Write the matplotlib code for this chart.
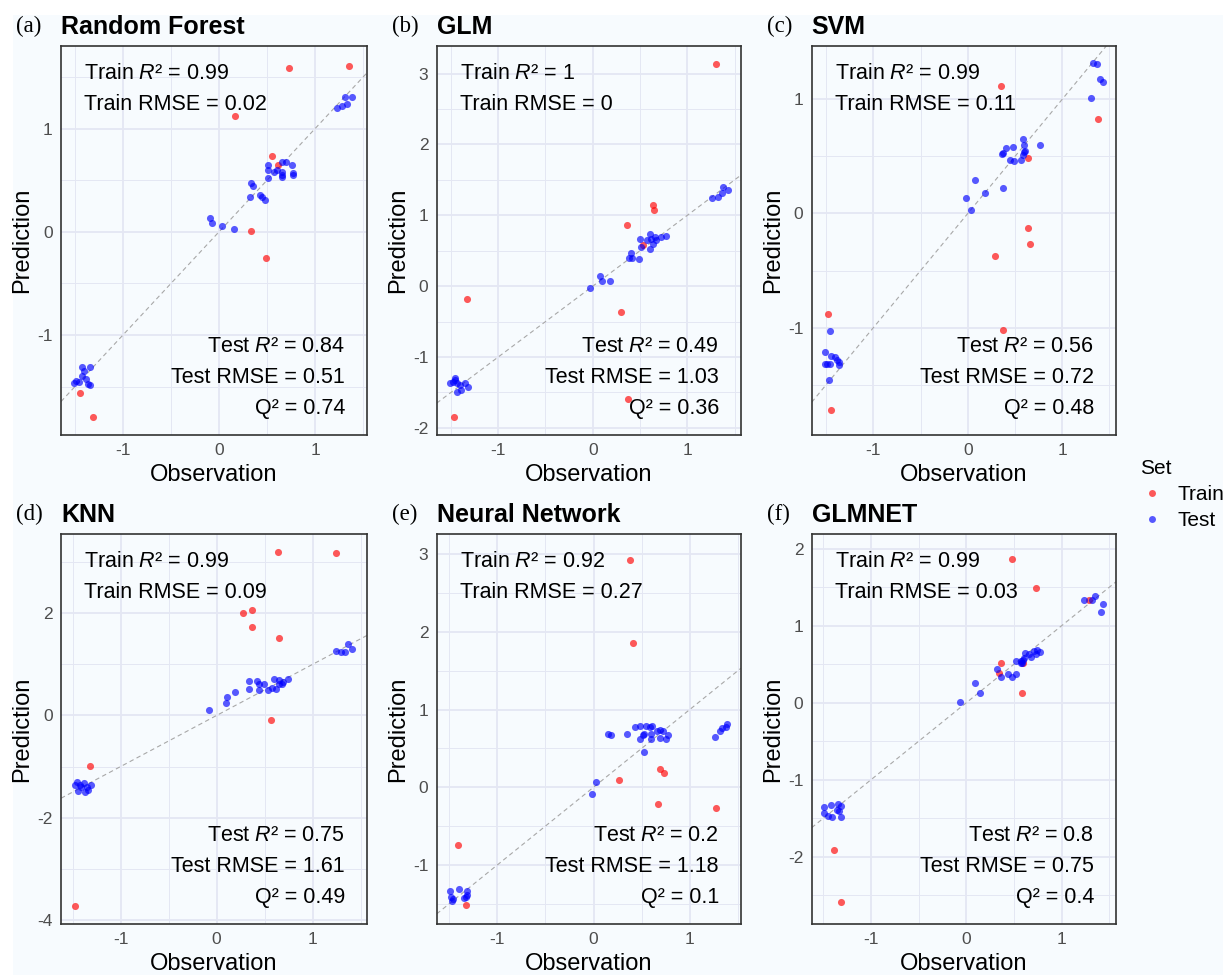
import numpy as np
import matplotlib
matplotlib.use("Agg")
import matplotlib.pyplot as plt
from matplotlib.patches import Rectangle
from matplotlib.lines import Line2D
from matplotlib.ticker import MultipleLocator

plt.rcParams['font.family'] = ['Liberation Sans', 'DejaVu Sans']
plt.rcParams['mathtext.fontset'] = 'custom'
plt.rcParams['mathtext.rm'] = 'Liberation Sans'
plt.rcParams['mathtext.it'] = 'Liberation Sans:italic'
plt.rcParams['axes.unicode_minus'] = False

# ---- data ----
models = ["Random Forest", "GLM", "SVM", "KNN", "Neural Network", "GLMNET"]
panel_tags = ["(a)", "(b)", "(c)", "(d)", "(e)", "(f)"]

train_r2 = ["0.99", "1", "0.99", "0.99", "0.92", "0.99"]
train_rmse = ["0.02", "0", "0.11", "0.09", "0.27", "0.03"]
test_r2 = ["0.84", "0.49", "0.56", "0.75", "0.2", "0.8"]
test_rmse = ["0.51", "1.03", "0.72", "1.61", "1.18", "0.75"]
q2 = ["0.74", "0.36", "0.48", "0.49", "0.1", "0.4"]

# Random Forest
rf_train_obs = [0.73, 1.35, 0.17, 0.55, 0.61, 0.33, 0.49, -1.45, -1.31]
rf_train_pred = [1.59, 1.61, 1.12, 0.73, 0.65, 0.01, -0.25, -1.56, -1.80]
rf_test_obs = [1.23, 1.28, 1.33, 1.31, 1.38,
               0.51, 0.51, 0.51, 0.57, 0.60, 0.65, 0.65, 0.66, 0.65, 0.70, 0.76, 0.77, 0.77,
               0.33, 0.35, 0.32, 0.43, 0.45, 0.48,
               -0.09, -0.07, 0.03, 0.16,
               -1.43, -1.34, -1.41, -1.43, -1.49, -1.46, -1.39, -1.37, -1.34, -1.51]
rf_test_pred = [1.20, 1.22, 1.24, 1.31, 1.31,
                0.65, 0.60, 0.52, 0.58, 0.60, 0.55, 0.53, 0.58, 0.68, 0.68, 0.65, 0.57, 0.55,
                0.47, 0.44, 0.34, 0.36, 0.34, 0.31,
                0.13, 0.08, 0.06, 0.03,
                -1.31, -1.31, -1.35, -1.40, -1.45, -1.46, -1.43, -1.48, -1.49, -1.47]

# GLM
glm_train_obs = [1.30, 0.64, 0.65, 0.36, 0.53, 0.30, -1.33, 0.37, -1.47]
glm_train_pred = [3.14, 1.15, 1.08, 0.87, 0.58, -0.36, -0.18, -1.59, -1.84]
glm_test_obs = [1.26, 1.33, 1.37, 1.38, 1.43,
                0.50, 0.51, 0.61, 0.62, 0.61, 0.64, 0.66, 0.67, 0.72, 0.77, 0.57, 0.40, 0.38, 0.42, 0.49,
                0.08, 0.10, 0.18, -0.03,
                -1.51, -1.46, -1.44, -1.44, -1.39, -1.35, -1.32, -1.46, -1.40, -1.48]
glm_test_pred = [1.25, 1.26, 1.32, 1.40, 1.36,
                 0.66, 0.56, 0.74, 0.66, 0.52, 0.60, 0.70, 0.65, 0.70, 0.71, 0.65, 0.47, 0.40, 0.40, 0.39,
                 0.14, 0.08, 0.08, -0.02,
                 -1.36, -1.30, -1.37, -1.49, -1.47, -1.36, -1.42, -1.33, -1.40, -1.35]

# SVM
svm_train_obs = [0.35, 1.38, 0.64, 0.64, 0.66, 0.29, 0.37, -1.48, -1.45]
svm_train_pred = [1.12, 0.83, 0.49, -0.13, -0.27, -0.37, -1.02, -0.88, -1.72]
svm_test_obs = [1.33, 1.37, 1.40, 1.43, 1.31,
                0.59, 0.60, 0.77, 0.48, 0.40, 0.36, 0.37, 0.45, 0.49, 0.56, 0.59, 0.60, 0.61,
                0.08, 0.18, 0.37, -0.02, 0.03,
                -1.46, -1.51, -1.51, -1.46, -1.45, -1.41, -1.39, -1.36, -1.36, -1.47, -1.49]
svm_test_pred = [1.32, 1.31, 1.18, 1.15, 1.01,
                 0.65, 0.60, 0.60, 0.58, 0.57, 0.52, 0.53, 0.47, 0.46, 0.47, 0.51, 0.54, 0.55,
                 0.29, 0.18, 0.22, 0.14, 0.03,
                 -1.03, -1.21, -1.32, -1.32, -1.25, -1.26, -1.28, -1.33, -1.30, -1.46, -1.32]

# KNN
knn_train_obs = [0.64, 1.24, 0.27, 0.37, 0.37, 0.65, 0.57, -1.32, -1.47]
knn_train_pred = [3.20, 3.18, 2.00, 2.07, 1.73, 1.52, -0.08, -0.99, -3.72]
knn_test_obs = [1.24, 1.30, 1.34, 1.37, 1.41,
                0.34, 0.34, 0.42, 0.44, 0.44, 0.49, 0.54, 0.58, 0.60, 0.62, 0.65, 0.65, 0.68, 0.69, 0.74,
                -0.08, 0.10, 0.11, 0.19,
                -1.45, -1.42, -1.38, -1.35, -1.31, -1.44, -1.37, -1.34, -1.41, -1.47]
knn_test_pred = [1.27, 1.24, 1.24, 1.40, 1.30,
                 0.67, 0.52, 0.67, 0.61, 0.49, 0.61, 0.50, 0.54, 0.71, 0.51, 0.70, 0.61, 0.61, 0.65, 0.71,
                 0.11, 0.24, 0.37, 0.46,
                 -1.30, -1.37, -1.32, -1.40, -1.37, -1.47, -1.49, -1.46, -1.40, -1.37]

# Neural Network
nn_train_obs = [0.38, 0.41, 0.69, 0.73, 0.26, 0.67, 1.27, -1.41, -1.33]
nn_train_pred = [2.93, 1.86, 0.24, 0.18, 0.09, -0.21, -0.27, -0.74, -1.52]
nn_test_obs = [1.26, 1.32, 1.34, 1.38, 1.39,
               0.15, 0.18, 0.35, 0.43, 0.48, 0.55, 0.61, 0.59, 0.51, 0.53, 0.48, 0.60, 0.60, 0.66,
               0.69, 0.72, 0.69, 0.75, 0.77, 0.53,
               0.03, -0.02,
               -1.49, -1.40, -1.32, -1.48, -1.46, -1.33, -1.31, -1.47, -1.35]
nn_test_pred = [0.65, 0.72, 0.76, 0.77, 0.81,
                0.69, 0.67, 0.69, 0.77, 0.79, 0.79, 0.79, 0.78, 0.67, 0.69, 0.62, 0.62, 0.69, 0.73,
                0.74, 0.73, 0.63, 0.62, 0.67, 0.45,
                0.07, -0.09,
                -1.33, -1.31, -1.33, -1.41, -1.44, -1.41, -1.39, -1.46, -1.43]

# GLMNET
gn_train_obs = [0.48, 0.73, 1.29, 0.36, 0.34, 0.59, 0.58, -1.39, -1.31]
gn_train_pred = [1.87, 1.49, 1.33, 0.52, 0.39, 0.52, 0.13, -1.91, -2.59]
gn_test_obs = [1.23, 1.32, 1.35, 1.43, 1.41,
               0.32, 0.36, 0.44, 0.48, 0.52, 0.52, 0.57, 0.57, 0.59, 0.62, 0.66, 0.68, 0.71, 0.73,
               0.74, 0.77, 0.58, 0.61,
               0.09, 0.14, -0.07,
               -1.49, -1.42, -1.34, -1.45, -1.41, -1.31, -1.33, -1.49, -1.36, -1.31]
gn_test_pred = [1.33, 1.33, 1.39, 1.28, 1.18,
                0.44, 0.34, 0.37, 0.33, 0.38, 0.54, 0.51, 0.54, 0.55, 0.65, 0.63, 0.60, 0.67, 0.63,
                0.68, 0.66, 0.51, 0.58,
                0.26, 0.13, 0.01,
                -1.35, -1.33, -1.31, -1.47, -1.48, -1.48, -1.40, -1.43, -1.39, -1.34]

train_obs = [rf_train_obs, glm_train_obs, svm_train_obs, knn_train_obs, nn_train_obs, gn_train_obs]
train_pred = [rf_train_pred, glm_train_pred, svm_train_pred, knn_train_pred, nn_train_pred, gn_train_pred]
test_obs = [rf_test_obs, glm_test_obs, svm_test_obs, knn_test_obs, nn_test_obs, gn_test_obs]
test_pred = [rf_test_pred, glm_test_pred, svm_test_pred, knn_test_pred, nn_test_pred, gn_test_pred]

xlims = [(-1.646, 1.54), (-1.65, 1.565), (-1.653, 1.57), (-1.62, 1.566), (-1.63, 1.53), (-1.62, 1.57)]
ylims = [(-1.97, 1.80), (-2.10, 3.39), (-1.94, 1.467), (-4.08, 3.55), (-1.76, 3.26), (-2.87, 2.19)]
ysteps = [1, 1, 1, 2, 1, 1]

# axes boxes in pixels (left, top, right, bottom)
W, H = 1223, 975
col_lr = [(61, 367), (436.7, 740.7), (811.7, 1116)]
row_tb = [(46, 435), (534, 924)]

fig = plt.figure(figsize=(W / 100, H / 100), dpi=100)
fig.patch.set_facecolor('white')
fig.add_artist(Rectangle((13 / W, 0), 1 - 13 / W, 1 - 15 / H, transform=fig.transFigure,
                         facecolor='#f7fbfe', edgecolor='none', zorder=-10))

grid_col = '#e4e7f3'
for i in range(6):
    r, c = divmod(i, 3)
    l, rr = col_lr[c]
    t, b = row_tb[r]
    ax = fig.add_axes([l / W, 1 - b / H, (rr - l) / W, (b - t) / H])
    ax.set_facecolor('none')
    ax.set_xlim(xlims[i])
    ax.set_ylim(ylims[i])
    ax.xaxis.set_major_locator(MultipleLocator(1))
    ax.xaxis.set_minor_locator(MultipleLocator(0.5))
    ax.yaxis.set_major_locator(MultipleLocator(ysteps[i]))
    ax.yaxis.set_minor_locator(MultipleLocator(ysteps[i] / 2))
    ax.grid(True, which='major', color=grid_col, lw=1.3, zorder=0)
    ax.grid(True, which='minor', color=grid_col, lw=0.7, zorder=0)
    ax.set_axisbelow(True)
    ax.tick_params(which='both', length=0, labelsize=12.5, labelcolor='#4d4d4d', pad=6)
    for sp in ax.spines.values():
        sp.set_color('#333333')
        sp.set_linewidth(1.2)

    ax.axline((0, 0), slope=1, color='#a8a8a8', lw=0.8, ls=(0, (4, 3)), zorder=1)
    ax.scatter(train_obs[i], train_pred[i], s=26, color='red', alpha=0.65, lw=0, zorder=3)
    ax.scatter(test_obs[i], test_pred[i], s=26, color='blue', alpha=0.65, lw=0, zorder=3)

    ax.set_xlabel('Observation', fontsize=17, labelpad=4)
    ax.set_ylabel('Prediction', fontsize=17, labelpad=3)

    ax.text(0.075, 0.93, 'Train $\\mathit{R}$\u00b2 = ' + train_r2[i], transform=ax.transAxes,
            fontsize=15.5, va='center', ha='left')
    ax.text(0.075, 0.85, 'Train RMSE = ' + train_rmse[i], transform=ax.transAxes,
            fontsize=15.5, va='center', ha='left')
    ax.text(0.928, 0.227, 'Test $\\mathit{R}$\u00b2 = ' + test_r2[i], transform=ax.transAxes,
            fontsize=15.5, va='center', ha='right')
    ax.text(0.928, 0.148, 'Test RMSE = ' + test_rmse[i], transform=ax.transAxes,
            fontsize=15.5, va='center', ha='right')
    ax.text(0.928, 0.069, 'Q\u00b2 = ' + q2[i], transform=ax.transAxes,
            fontsize=15.5, va='center', ha='right')

    fig.text(l / W, 1 - (t - 19) / H, models[i], fontsize=18, fontweight='bold',
             ha='left', va='center')
    fig.text((l - 45) / W, 1 - (t - 20) / H, panel_tags[i], fontsize=16.5,
             family='Liberation Serif', ha='left', va='center')

# legend
handles = [Line2D([], [], marker='o', ls='', color='red', alpha=0.65, markersize=5, mew=0),
           Line2D([], [], marker='o', ls='', color='blue', alpha=0.65, markersize=5, mew=0)]
leg = fig.legend(handles, ['Train', 'Test'], title='Set', loc='upper left',
                 bbox_to_anchor=(1121 / W, 1 - 440 / H), frameon=False, fontsize=15,
                 title_fontsize=15, handletextpad=0.6, labelspacing=0.35, handlelength=1.2)
leg._legend_box.align = 'left'

fig.savefig('out.png', dpi=100, facecolor=fig.get_facecolor())
